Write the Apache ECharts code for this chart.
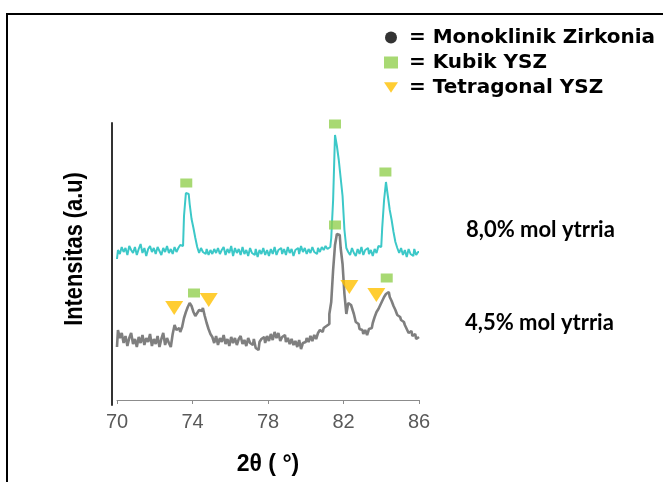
<!DOCTYPE html>
<html>
<head>
<meta charset="utf-8">
<script src="https://cdn.jsdelivr.net/npm/echarts@6/dist/echarts.min.js"></script>
<style>html,body{margin:0;padding:0;background:#fff;}#c{width:663px;height:482px;}</style>
</head>
<body>
<div id="c"></div>
<script>
// 2θ sampling (degrees)
const twoTheta = [
70.0,70.1,70.2,70.3,70.4,70.5,70.6,70.7,70.8,70.9,
71.0,71.1,71.2,71.3,71.4,71.5,71.6,71.7,71.8,71.9,
72.0,72.1,72.2,72.3,72.4,72.5,72.6,72.7,72.8,72.9,
73.0,73.1,73.2,73.3,73.4,73.5,73.6,73.7,73.8,73.9,
74.0,74.1,74.2,74.3,74.4,74.5,74.6,74.7,74.8,74.9,
75.0,75.1,75.2,75.3,75.4,75.5,75.6,75.7,75.8,75.9,
76.0,76.1,76.2,76.3,76.4,76.5,76.6,76.7,76.8,76.9,
77.0,77.1,77.2,77.3,77.4,77.5,77.6,77.7,77.8,77.9,
78.0,78.1,78.2,78.3,78.4,78.5,78.6,78.7,78.8,78.9,
79.0,79.1,79.2,79.3,79.4,79.5,79.6,79.7,79.8,79.9,
80.0,80.1,80.2,80.3,80.4,80.5,80.6,80.7,80.8,80.9,
81.0,81.1,81.2,81.3,81.4,81.5,81.6,81.7,81.8,81.9,
82.0,82.1,82.2,82.3,82.4,82.5,82.6,82.7,82.8,82.9,
83.0,83.1,83.2,83.3,83.4,83.5,83.6,83.7,83.8,83.9,
84.0,84.1,84.2,84.3,84.4,84.5,84.6,84.7,84.8,84.9,
85.0,85.1,85.2,85.3,85.4,85.5,85.6,85.7,85.8,85.9,
86.0
];
// 8,0% mol ytrria (offset trace, arbitrary units)
const ytrria80 = [
141,150,146,153,148,152,145,154,150,147,
153,145,151,156,147,152,144,151,154,148,
152,146,153,149,145,152,148,154,147,151,
146,153,148,152,155,154,184,207,206,196,
181,172,162,153,147,152,148,146,151,145,
150,146,151,147,152,146,150,153,145,151,
147,154,144,152,147,151,145,153,146,150,
144,152,147,145,151,143,150,146,152,145,
150,144,151,146,153,145,150,152,146,151,
145,153,147,151,144,150,152,146,154,148,
152,146,151,147,153,148,146,152,148,153,
150,154,151,153,162,200,265,254,240,222,
204,170,152,148,145,152,147,144,151,146,
153,145,150,152,146,150,144,151,147,154,
153,172,200,218,204,190,180,168,158,152,
147,152,145,150,143,151,146,144,151,145,
148
];
// 4,5% mol ytrria (arbitrary units)
const ytrria45 = [
53,70,62,67,57,64,54,62,67,56,
61,53,63,57,65,55,62,58,66,54,
61,56,64,53,61,67,55,62,57,53,
66,75,70,72,68,73,82,88,93,97,
94,88,84,87,90,89,92,84,77,71,
66,63,57,64,55,62,58,65,56,61,
54,63,57,62,55,61,64,56,60,54,
62,57,55,61,52,50,58,61,63,57,
64,59,66,60,68,62,67,59,63,65,
58,62,56,61,55,59,53,60,51,57,
58,62,58,64,59,65,61,67,70,68,
72,74,76,86,98,130,155,166,165,152,
136,106,86,97,95,92,86,78,76,71,
70,66,70,65,71,72,77,83,88,91,
95,99,103,106,108,103,99,94,90,85,
83,80,78,75,71,67,69,64,66,61,
63
];
// phase markers [2θ, intensity]
const kubikPeaks = [[73.67,217],[81.55,276],[84.22,228],[74.08,107],[81.55,175],[84.29,122]];
const tetragonalPeaks = [[73.03,92],[74.86,100],[82.31,113],[83.74,105]];
const monoklinikPeaks = [];
const xTicks = {min:70, max:86, interval:4};
const legendNames = ['Monoklinik Zirkonia','Kubik YSZ','Tetragonal YSZ'];
const sampleLabels = ['8,0% mol ytrria','4,5% mol ytrria'];

const triPath = 'path://M0,0L20,0L10,15Z';
const zip = (xs, ys) => xs.map((x, i) => [x, ys[i]]);

const chart = echarts.init(document.getElementById('c'), null, {renderer:'canvas'});
chart.setOption({
  animation:false,
  backgroundColor:'#fff',
  title:[
    {text:sampleLabels[0], left:466, top:219, padding:0,
     textStyle:{fontFamily:'Lato', fontWeight:'bold', fontSize:22, lineHeight:22, color:'#000'}},
    {text:sampleLabels[1], left:465, top:312, padding:0,
     textStyle:{fontFamily:'Lato', fontWeight:'bold', fontSize:22, lineHeight:22, color:'#000'}}
  ],
  legend:{
    orient:'vertical', left:384, top:27, padding:0,
    itemWidth:14, itemHeight:12, itemGap:4,
    formatter: n => '= ' + n,
    textStyle:{fontFamily:'DejaVu Sans', fontWeight:'bold', fontSize:20, lineHeight:21, color:'#000', padding:[0,0,0,6]},
    data:[
      {name:legendNames[0], icon:'circle'},
      {name:legendNames[1], icon:'rect'},
      {name:legendNames[2], icon:triPath}
    ]
  },
  grid:[
    {left:117, right:244, top:123, bottom:82},
    {left:112, right:540, top:123, bottom:77}
  ],
  xAxis:[
    {type:'value', gridIndex:0, min:xTicks.min, max:xTicks.max, interval:xTicks.interval,
     axisLine:{lineStyle:{color:'#8c8c8c', width:1}},
     axisTick:{show:true, length:4, lineStyle:{color:'#8c8c8c'}},
     axisLabel:{fontFamily:'Liberation Sans', fontSize:20, color:'#595959', margin:12},
     splitLine:{show:false},
     name:'2θ ( °)', nameLocation:'middle', nameGap:53,
     nameTextStyle:{fontFamily:'Liberation Sans', fontWeight:'bold', fontSize:23, color:'#000'}},
    {type:'value', gridIndex:1, min:0, max:1, show:false}
  ],
  yAxis:[
    {type:'value', gridIndex:0, min:0, max:277, show:false},
    {type:'value', gridIndex:1, min:0, max:1,
     axisLine:{show:true, lineStyle:{color:'#333', width:2}},
     axisTick:{show:false}, axisLabel:{show:false}, splitLine:{show:false}}
  ],
  graphic:[
    {type:'polyline', silent:true, z:100,
     shape:{points:[[7,482],[7,14],[663,14]]},
     style:{stroke:'#000', lineWidth:2, fill:null}},
    {type:'text', x:75, y:249, rotation:Math.PI/2, scaleX:0.87, z:100,
     style:{text:'Intensitas (a.u)', font:'bold 25px "Liberation Sans"', fill:'#000',
            align:'center', verticalAlign:'middle'}}
  ],
  series:[
    {type:'line', name:sampleLabels[0], xAxisIndex:0, yAxisIndex:0, data:zip(twoTheta, ytrria80),
     step:'middle', showSymbol:false, lineStyle:{color:'#3cc8c8', width:2}, itemStyle:{color:'#3cc8c8'}, z:2},
    {type:'line', name:sampleLabels[1], xAxisIndex:0, yAxisIndex:0, data:zip(twoTheta, ytrria45),
     step:'middle', showSymbol:false, lineStyle:{color:'#7f7f7f', width:2.6}, itemStyle:{color:'#7f7f7f'}, z:3},
    {type:'scatter', name:legendNames[0], data:monoklinikPeaks, symbol:'circle', symbolSize:8,
     itemStyle:{color:'#000'}, clip:false, z:5},
    {type:'scatter', name:legendNames[1], data:kubikPeaks, symbol:'rect', symbolSize:[12,9],
     itemStyle:{color:'#92d050'}, clip:false, z:5},
    {type:'scatter', name:legendNames[2], data:tetragonalPeaks, symbol:triPath, symbolSize:[18,14],
     itemStyle:{color:'#ffc000'}, clip:false, z:5}
  ]
});
</script>
</body>
</html>
